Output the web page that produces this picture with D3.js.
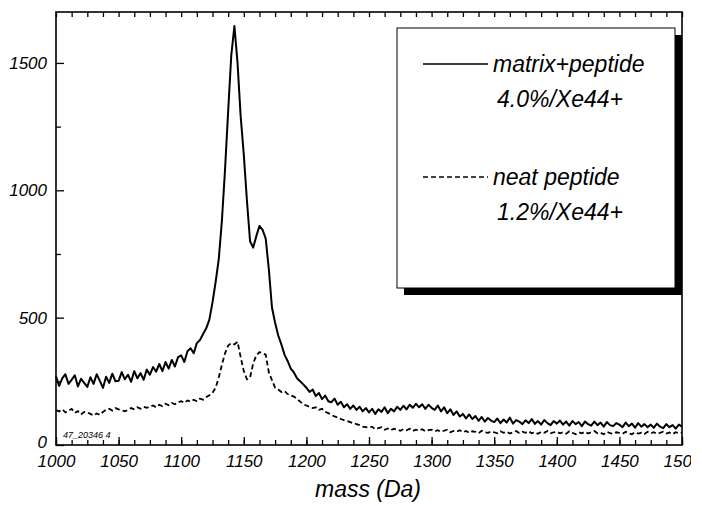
<html>
<head>
  <meta charset="utf-8" />
  <script src="https://cdnjs.cloudflare.com/ajax/libs/d3/7.8.5/d3.min.js"></script>
  <style>
    body { margin: 0; background: #fff; }
    svg { font-family: "Liberation Sans", Arial, sans-serif; font-style: italic; }
    path.domain { stroke: none; }
    .tick > line { stroke: #000; stroke-width: 1.3; }
    .tick > text {
      fill: #000;
      font-family: "Liberation Sans", Arial, sans-serif;
      font-style: italic;
      font-size: 17px;
    }
  </style>
</head>
<body>
  <svg width="702" height="506"></svg>
<script>
  // mass grid, one sample every 2.5 Da
  const masses = d3.range(1000, 1500.1, 2.5);

  // matrix+peptide, 4.0%/Xe44+
  const matrixPeptide = [
    270, 232, 262, 278, 240, 256, 274, 230, 260, 244,
    228, 266, 240, 278, 252, 224, 268, 244, 280, 250,
    252, 286, 258, 276, 248, 290, 262, 282, 256, 296,
    276, 306, 288, 318, 290, 326, 300, 334, 308, 345,
    352, 326, 368, 380, 360, 400, 412, 436, 458, 492,
    560, 640, 730, 880, 1080, 1310, 1530, 1645, 1500, 1290,
    1140, 960, 800, 775, 820, 860, 845, 810, 690, 540,
    480, 430, 395, 355, 330, 300, 285, 262, 250, 238,
    225, 208, 218, 192, 204, 180, 194, 172, 168, 182,
    158, 170, 148, 160, 142, 155, 138, 150, 132, 145,
    128, 142, 122, 140, 130, 148, 125, 142, 132, 150,
    138, 154, 140, 158, 146, 162, 148, 160, 142, 158,
    146, 138, 155, 132, 148, 125, 140, 118, 132, 112,
    122, 104, 120, 102, 114, 95, 110, 92, 106, 96,
    90, 104, 86, 100, 88, 108, 84, 98, 92, 82,
    97, 86, 102, 83, 94, 80, 98, 86, 78, 94,
    84, 96, 80, 92, 76, 94, 82, 90, 74, 92,
    82, 76, 92, 78, 88, 72, 90, 78, 74, 86,
    80, 70, 88, 74, 84, 68, 86, 72, 82, 70,
    80, 68, 84, 72, 66, 82, 70, 78, 64, 80,
    72
  ];

  // neat peptide, 1.2%/Xe44+
  const neatPeptide = [
    137, 132, 140, 128, 135, 142, 126, 133, 120, 130,
    128, 122, 116, 124, 118, 130, 138, 142, 135, 145,
    140, 136, 132, 138, 145, 140, 148, 142, 150, 146,
    150, 155, 148, 158, 152, 162, 156, 165, 160, 168,
    172, 165, 175, 170, 178, 172, 182, 178, 188, 195,
    205, 225, 265, 315, 360, 390, 400, 395, 405, 345,
    290, 258, 265, 320, 352, 365, 360, 355, 285, 255,
    225, 218, 208, 212, 200, 195, 190, 182, 170, 160,
    155, 150, 145, 148, 138, 142, 130, 125, 118, 112,
    108, 102, 98, 94, 90, 85, 82, 78, 72, 70,
    68, 72, 62, 66, 70, 60, 65, 58, 64, 60,
    56, 62, 58, 64, 55, 60, 57, 62, 54, 58,
    60, 54, 58, 52, 56, 60, 50, 55, 52, 58,
    50, 55, 48, 54, 52, 46, 56, 50, 48, 53,
    50, 46, 54, 48, 52, 45, 50, 55, 47, 52,
    48, 54, 46, 50, 44, 52, 48, 55, 46, 50,
    52, 46, 50, 44, 54, 48, 42, 50, 46, 52,
    45, 50, 55, 46, 48, 42, 52, 47, 44, 50,
    48, 44, 52, 46, 42, 50, 45, 48, 43, 52,
    46, 50, 44, 48, 52, 45, 49, 43, 50, 46,
    48
  ];

  const xMajor = d3.range(1000, 1501, 50);
  const xMinor = d3.range(1000, 1501, 12.5);
  const yMajor = [0, 500, 1000, 1500];
  const yMinor = [250, 750, 1250];
  const legendLabels = [["matrix+peptide", "4.0%/Xe44+"], ["neat peptide", "1.2%/Xe44+"]];

  const svg = d3.select("svg");
  const plotL = 56, plotR = 682, plotT = 12, plotB = 445;

  const xScale = d3.scaleLinear().domain([1000, 1500]).range([plotL, plotR]);
  const yScale = d3.scaleLinear().domain([0, 1700]).range([plotB, plotT]);

  // the scanned figure is cut off on the right edge
  svg.append("clipPath").attr("id", "pageCut")
     .append("rect").attr("x", 0).attr("y", 0).attr("width", 691).attr("height", 506);

  // ticks, all pointing into the plot
  svg.append("g").attr("transform", `translate(0,${plotB})`)
     .call(d3.axisBottom(xScale).tickValues(xMinor).tickSize(-5).tickFormat(""));
  svg.append("g").attr("clip-path", "url(#pageCut)")
     .append("g").attr("transform", `translate(0,${plotB})`)
     .call(d3.axisBottom(xScale).tickValues(xMajor).tickSize(-8).tickPadding(10).tickFormat(d3.format("d")));
  svg.append("g").attr("transform", `translate(0,${plotT})`)
     .call(d3.axisTop(xScale).tickValues(xMinor).tickSize(-5).tickFormat(""));
  svg.append("g").attr("transform", `translate(${plotL},0)`)
     .call(d3.axisLeft(yScale).tickValues(yMinor).tickSize(-5).tickFormat(""));
  const yAxisG = svg.append("g").attr("transform", `translate(${plotL},0)`)
     .call(d3.axisLeft(yScale).tickValues(yMajor).tickSize(-8).tickPadding(9).tickFormat(d3.format("d")));
  // lift the "0" a little so it clears the 1000 below it
  yAxisG.selectAll(".tick text").filter(d => d === 0).attr("y", -3);
  svg.selectAll(".tick text").attr("font-style", "italic");

  // frame
  svg.append("rect")
     .attr("x", plotL).attr("y", plotT)
     .attr("width", plotR - plotL).attr("height", plotB - plotT)
     .attr("fill", "none").attr("stroke", "#000").attr("stroke-width", 1.6);

  const line = d3.line().x((d, i) => xScale(masses[i])).y(d => yScale(d));

  svg.append("path")
     .attr("d", line(neatPeptide))
     .attr("fill", "none").attr("stroke", "#000")
     .attr("stroke-width", 1.8).attr("stroke-dasharray", "5,3");
  svg.append("path")
     .attr("d", line(matrixPeptide))
     .attr("fill", "none").attr("stroke", "#000")
     .attr("stroke-width", 2).attr("stroke-linejoin", "round");

  // small id stamp in the corner
  svg.append("text").attr("x", 63).attr("y", 438)
     .attr("font-size", 9).text("47_20346 4");

  // legend box with shadow
  const lx = 397, ly = 28, lw = 278, lh = 260;
  svg.append("rect").attr("x", lx + 7).attr("y", ly + 7).attr("width", lw).attr("height", lh).attr("fill", "#000");
  svg.append("rect").attr("x", lx).attr("y", ly).attr("width", lw).attr("height", lh)
     .attr("fill", "#fff").attr("stroke", "#000").attr("stroke-width", 1);

  const rows = [64, 177];
  legendLabels.forEach((lab, i) => {
    svg.append("line")
       .attr("x1", 423).attr("x2", 488).attr("y1", rows[i]).attr("y2", rows[i])
       .attr("stroke", "#000").attr("stroke-width", 1.3)
       .attr("stroke-dasharray", i === 1 ? "5,3" : null);
    svg.append("text").attr("x", 493).attr("y", rows[i] + 8)
       .attr("font-size", 23).text(lab[0]);
    svg.append("text").attr("x", 497).attr("y", rows[i] + 43)
       .attr("font-size", 23).text(lab[1]);
  });

  svg.append("text").attr("x", 368).attr("y", 497)
     .attr("text-anchor", "middle").attr("font-size", 23).text("mass (Da)");
</script>
</body>
</html>
